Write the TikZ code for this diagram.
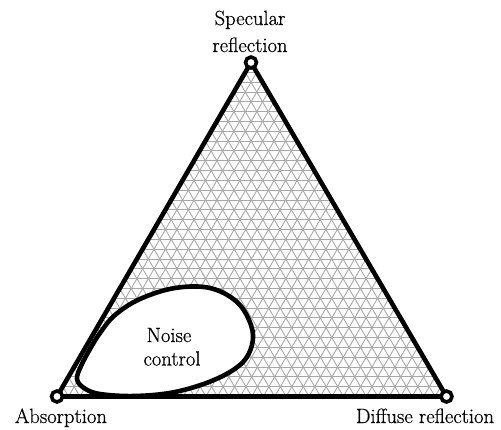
\documentclass[tikz,border=0pt]{standalone}
\usepackage{fontspec}
\setmainfont{Latin Modern Roman}
\newfontfamily\lblfont{Latin Modern Roman}[FakeBold=0.6]
\usetikzlibrary{calc}
\begin{document}
\begin{tikzpicture}[x=1pt,y=-1pt,
  gridline/.style={draw=gray!68,line width=0.9pt},
  edge/.style={draw=black,line width=4.6pt,line join=round},
  vtx/.style={circle,draw=black,fill=white,line width=3.6pt,minimum size=11pt,inner sep=0pt},
  lbl/.style={font=\lblfont\fontsize{20.6}{27}\selectfont,inner sep=0pt,anchor=base}]
\useasboundingbox (0,0) rectangle (501,429);
\coordinate (A) at (57,396.5);
\coordinate (B) at (446.5,396.5);
\coordinate (C) at (251,62.5);
% grid
\foreach \i in {1,...,33}{
  \pgfmathsetmacro{\t}{\i/34}
  \draw[gridline] ($(A)!\t!(C)$) -- ($(B)!\t!(C)$);
  \draw[gridline] ($(A)!\t!(B)$) -- ($(C)!\t!(B)$);
  \draw[gridline] ($(B)!\t!(A)$) -- ($(C)!\t!(A)$);
}
\draw[edge] (A) -- (B) -- (C) -- cycle;
% noise control region
\draw[edge,fill=white] plot[smooth cycle,tension=0.6] coordinates {
  (77,379) (81,366) (90,349) (100,333) (115,315) (140,299) (175,288) (210,288)
  (237,302) (251,325) (252,345) (241,364) (214,380) (175,392) (135,396) (100,394) (84,388)};
\node[vtx] (vA) at (A) {};
\node[vtx] (vB) at (B) {};
\node[vtx] (vC) at (C) {};
\node[lbl] (s1) at (250,25) {Specular};
\node[lbl] (s2) at (250,52) {reflection};
\node[lbl] (n1) at (169,342) {Noise};
\node[lbl] (n2) at (172,365.5) {control};
\node[lbl] (ab) at (61,423) {Absorption};
\node[lbl] (df) at (425,423) {Diffuse reflection};
\end{tikzpicture}
\end{document}
